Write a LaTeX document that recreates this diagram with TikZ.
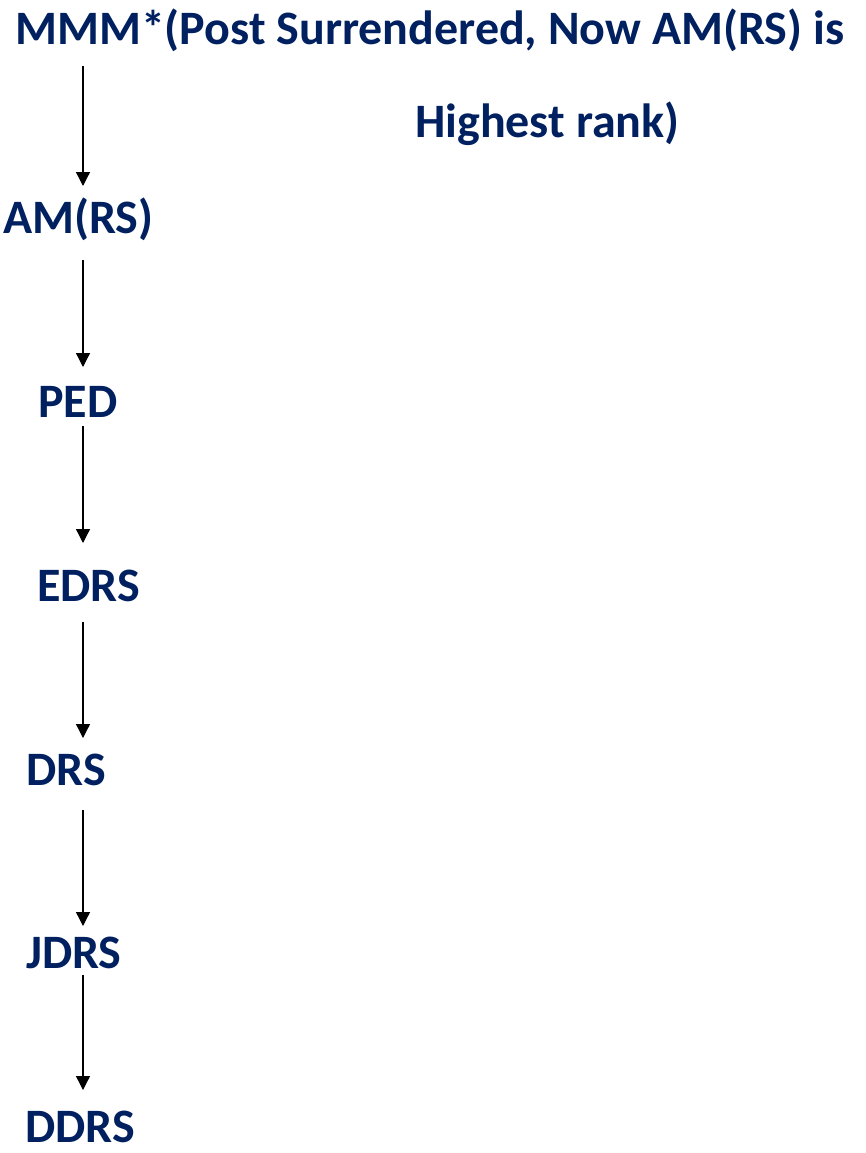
\documentclass[tikz,border=0pt]{standalone}
\usepackage{fontspec}
\setmainfont{Carlito}
\usetikzlibrary{arrows.meta}
\definecolor{navy}{HTML}{002060}
\begin{document}
\begin{tikzpicture}[x=1pt,y=-1pt,
  lbl/.style={anchor=base west,inner sep=0pt,text=navy,font=\fontsize{48}{56}\selectfont\bfseries},
  arr/.style={-{Triangle[length=14pt,width=14pt]},line width=1.3pt,black}]
\useasboundingbox (0,0) rectangle (865,1153);
\node[lbl] (t1) at (15,45) {MMM*(Post Surrendered, Now AM(RS) is};
\node[lbl] (t2) at (415,138) {Highest rank)};
\node[lbl] (n1) at (3,233) {AM(RS)};
\node[lbl] (n2) at (38,417) {PED};
\node[lbl] (n3) at (37,601) {EDRS};
\node[lbl] (n4) at (26,785) {DRS};
\node[lbl] (n5) at (26,968) {JDRS};
\node[lbl] (n6) at (25,1142) {DDRS};
\coordinate (a0) at (83,66);  \coordinate (b0) at (83,186);
\coordinate (a1) at (83,260); \coordinate (b1) at (83,367);
\coordinate (a2) at (83,426); \coordinate (b2) at (83,543);
\coordinate (a3) at (83,622); \coordinate (b3) at (83,738);
\coordinate (a4) at (83,810); \coordinate (b4) at (83,926);
\coordinate (a5) at (83,975); \coordinate (b5) at (83,1090);
\foreach \i in {0,...,5} \draw[arr] (a\i) -- (b\i);
\end{tikzpicture}
\end{document}
